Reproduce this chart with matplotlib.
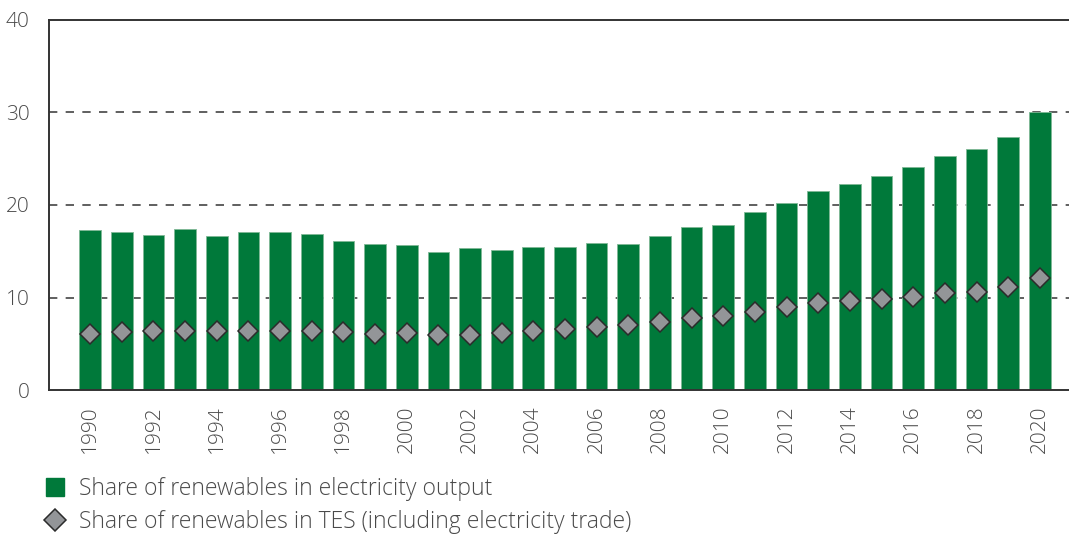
import matplotlib
matplotlib.use("Agg")
import matplotlib.pyplot as plt
from matplotlib.lines import Line2D

plt.rcParams["font.family"] = ["Open Sans", "DejaVu Sans"]
plt.rcParams["font.weight"] = "light"

years = list(range(1990, 2021))
elec_share = [17.3, 17.05, 16.8, 17.45, 16.6, 17.1, 17.05, 16.9, 16.1, 15.8,
              15.7, 14.9, 15.3, 15.1, 15.5, 15.5, 15.9, 15.8, 16.6, 17.6,
              17.8, 19.2, 20.2, 21.5, 22.3, 23.1, 24.1, 25.3, 26.0, 27.3, 30.0]
tes_share = [6.1, 6.3, 6.4, 6.4, 6.4, 6.4, 6.4, 6.4, 6.3, 6.1,
             6.2, 5.95, 5.95, 6.2, 6.4, 6.6, 6.8, 7.0, 7.4, 7.8,
             8.0, 8.4, 9.0, 9.4, 9.6, 9.8, 10.1, 10.5, 10.6, 11.1, 12.1]
y_ticks = [0, 10, 20, 30, 40]
legend_labels = ["Share of renewables in electricity output",
                 "Share of renewables in TES (including electricity trade)"]

GREEN = "#00793A"
GREY = "#939598"
TEXT = "#4a4a4a"

fig = plt.figure(figsize=(10.69, 5.37), dpi=100)
ax = fig.add_axes([0.0461, 0.2737, 0.9539, 0.6891])

x = list(range(len(years)))
ax.bar(x, elec_share, width=0.685, color=GREEN, edgecolor="#7fb896",
       linewidth=0.6, zorder=2)
ax.plot(x, tes_share, linestyle="none", marker="D", markersize=10,
        markerfacecolor=GREY, markeredgecolor="#2b2b2b", markeredgewidth=1.1,
        zorder=3)

ax.set_xlim(-1.29, 30.92)
ax.set_ylim(0, 40)
ax.set_yticks(y_ticks)
ax.set_yticklabels([str(v) for v in y_ticks], fontsize=15, color=TEXT)
ax.set_xticks(x[::2])
ax.set_xticklabels([str(y) for y in years[::2]], rotation=90, fontsize=15,
                   color=TEXT)
ax.tick_params(axis="both", length=0)
ax.tick_params(axis="y", pad=14)
ax.tick_params(axis="x", pad=11)

for yv in [10, 20, 30]:
    ax.axhline(yv, color="#444444", linewidth=1.2, linestyle=(0, (5, 5)),
               zorder=1)

for side in ["left", "top", "bottom"]:
    ax.spines[side].set_color("#333333")
    ax.spines[side].set_linewidth(1.4)
ax.spines["right"].set_visible(False)

handles = [
    Line2D([], [], linestyle="none", marker="s", markersize=13,
           markerfacecolor=GREEN, markeredgecolor=GREEN),
    Line2D([], [], linestyle="none", marker="D", markersize=11,
           markerfacecolor=GREY, markeredgecolor="#2b2b2b",
           markeredgewidth=1.1),
]
leg = fig.legend(handles, legend_labels, loc="upper left",
                 bbox_to_anchor=(0.037, 0.112), frameon=False,
                 fontsize=16.5, labelcolor=TEXT, handlelength=1.35,
                 handletextpad=0.36, labelspacing=0.42, borderaxespad=0,
                 borderpad=0)

fig.savefig("out.png", dpi=100)
